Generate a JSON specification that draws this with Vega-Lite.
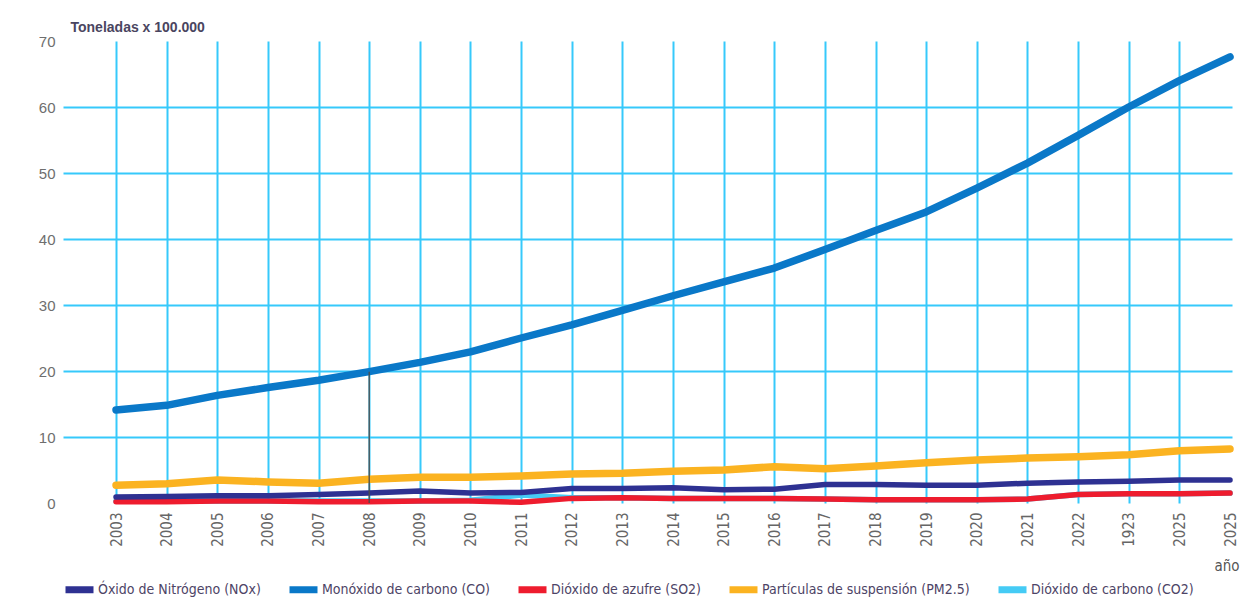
{
  "$schema": "https://vega.github.io/schema/vega-lite/v6.json",
  "width": 1169,
  "height": 462,
  "autosize": {"type": "none"},
  "padding": {"left": 63, "top": 41, "right": 28, "bottom": 107},
  "background": "#ffffff",
  "config": {
    "view": {"stroke": null},
    "font": "DejaVu Sans Condensed, sans-serif"
  },
  "datasets": {
    "emisiones": [
      {"pos": 0, "serie": "Dióxido de carbono (CO2)", "valor": 0.3},
      {"pos": 1, "serie": "Dióxido de carbono (CO2)", "valor": 0.3},
      {"pos": 2, "serie": "Dióxido de carbono (CO2)", "valor": 0.3},
      {"pos": 3, "serie": "Dióxido de carbono (CO2)", "valor": 0.3},
      {"pos": 4, "serie": "Dióxido de carbono (CO2)", "valor": 0.3},
      {"pos": 5, "serie": "Dióxido de carbono (CO2)", "valor": 0.3},
      {"pos": 6, "serie": "Dióxido de carbono (CO2)", "valor": 0.3},
      {"pos": 7, "serie": "Dióxido de carbono (CO2)", "valor": 0.4},
      {"pos": 8, "serie": "Dióxido de carbono (CO2)", "valor": 1.2},
      {"pos": 9, "serie": "Dióxido de carbono (CO2)", "valor": 0.8},
      {"pos": 10, "serie": "Dióxido de carbono (CO2)", "valor": 0.8},
      {"pos": 11, "serie": "Dióxido de carbono (CO2)", "valor": 0.7},
      {"pos": 12, "serie": "Dióxido de carbono (CO2)", "valor": 0.7},
      {"pos": 13, "serie": "Dióxido de carbono (CO2)", "valor": 0.7},
      {"pos": 14, "serie": "Dióxido de carbono (CO2)", "valor": 0.6},
      {"pos": 15, "serie": "Dióxido de carbono (CO2)", "valor": 0.5},
      {"pos": 16, "serie": "Dióxido de carbono (CO2)", "valor": 0.5},
      {"pos": 17, "serie": "Dióxido de carbono (CO2)", "valor": 0.5},
      {"pos": 18, "serie": "Dióxido de carbono (CO2)", "valor": 0.6},
      {"pos": 19, "serie": "Dióxido de carbono (CO2)", "valor": 1.3},
      {"pos": 20, "serie": "Dióxido de carbono (CO2)", "valor": 1.4},
      {"pos": 21, "serie": "Dióxido de carbono (CO2)", "valor": 1.4},
      {"pos": 22, "serie": "Dióxido de carbono (CO2)", "valor": 1.5},

      {"pos": 0, "serie": "Dióxido de azufre (SO2)", "valor": 0.2},
      {"pos": 1, "serie": "Dióxido de azufre (SO2)", "valor": 0.2},
      {"pos": 2, "serie": "Dióxido de azufre (SO2)", "valor": 0.3},
      {"pos": 3, "serie": "Dióxido de azufre (SO2)", "valor": 0.3},
      {"pos": 4, "serie": "Dióxido de azufre (SO2)", "valor": 0.2},
      {"pos": 5, "serie": "Dióxido de azufre (SO2)", "valor": 0.2},
      {"pos": 6, "serie": "Dióxido de azufre (SO2)", "valor": 0.3},
      {"pos": 7, "serie": "Dióxido de azufre (SO2)", "valor": 0.3},
      {"pos": 8, "serie": "Dióxido de azufre (SO2)", "valor": 0.1},
      {"pos": 9, "serie": "Dióxido de azufre (SO2)", "valor": 0.7},
      {"pos": 10, "serie": "Dióxido de azufre (SO2)", "valor": 0.8},
      {"pos": 11, "serie": "Dióxido de azufre (SO2)", "valor": 0.7},
      {"pos": 12, "serie": "Dióxido de azufre (SO2)", "valor": 0.7},
      {"pos": 13, "serie": "Dióxido de azufre (SO2)", "valor": 0.7},
      {"pos": 14, "serie": "Dióxido de azufre (SO2)", "valor": 0.6},
      {"pos": 15, "serie": "Dióxido de azufre (SO2)", "valor": 0.5},
      {"pos": 16, "serie": "Dióxido de azufre (SO2)", "valor": 0.5},
      {"pos": 17, "serie": "Dióxido de azufre (SO2)", "valor": 0.5},
      {"pos": 18, "serie": "Dióxido de azufre (SO2)", "valor": 0.6},
      {"pos": 19, "serie": "Dióxido de azufre (SO2)", "valor": 1.3},
      {"pos": 20, "serie": "Dióxido de azufre (SO2)", "valor": 1.4},
      {"pos": 21, "serie": "Dióxido de azufre (SO2)", "valor": 1.4},
      {"pos": 22, "serie": "Dióxido de azufre (SO2)", "valor": 1.5},

      {"pos": 0, "serie": "Óxido de Nitrógeno (NOx)", "valor": 0.9},
      {"pos": 1, "serie": "Óxido de Nitrógeno (NOx)", "valor": 1.0},
      {"pos": 2, "serie": "Óxido de Nitrógeno (NOx)", "valor": 1.1},
      {"pos": 3, "serie": "Óxido de Nitrógeno (NOx)", "valor": 1.1},
      {"pos": 4, "serie": "Óxido de Nitrógeno (NOx)", "valor": 1.3},
      {"pos": 5, "serie": "Óxido de Nitrógeno (NOx)", "valor": 1.5},
      {"pos": 6, "serie": "Óxido de Nitrógeno (NOx)", "valor": 1.8},
      {"pos": 7, "serie": "Óxido de Nitrógeno (NOx)", "valor": 1.5},
      {"pos": 8, "serie": "Óxido de Nitrógeno (NOx)", "valor": 1.6},
      {"pos": 9, "serie": "Óxido de Nitrógeno (NOx)", "valor": 2.2},
      {"pos": 10, "serie": "Óxido de Nitrógeno (NOx)", "valor": 2.2},
      {"pos": 11, "serie": "Óxido de Nitrógeno (NOx)", "valor": 2.3},
      {"pos": 12, "serie": "Óxido de Nitrógeno (NOx)", "valor": 2.0},
      {"pos": 13, "serie": "Óxido de Nitrógeno (NOx)", "valor": 2.1},
      {"pos": 14, "serie": "Óxido de Nitrógeno (NOx)", "valor": 2.8},
      {"pos": 15, "serie": "Óxido de Nitrógeno (NOx)", "valor": 2.8},
      {"pos": 16, "serie": "Óxido de Nitrógeno (NOx)", "valor": 2.7},
      {"pos": 17, "serie": "Óxido de Nitrógeno (NOx)", "valor": 2.7},
      {"pos": 18, "serie": "Óxido de Nitrógeno (NOx)", "valor": 3.0},
      {"pos": 19, "serie": "Óxido de Nitrógeno (NOx)", "valor": 3.2},
      {"pos": 20, "serie": "Óxido de Nitrógeno (NOx)", "valor": 3.3},
      {"pos": 21, "serie": "Óxido de Nitrógeno (NOx)", "valor": 3.5},
      {"pos": 22, "serie": "Óxido de Nitrógeno (NOx)", "valor": 3.5},

      {"pos": 0, "serie": "Partículas de suspensión (PM2.5)", "valor": 2.7},
      {"pos": 1, "serie": "Partículas de suspensión (PM2.5)", "valor": 2.9},
      {"pos": 2, "serie": "Partículas de suspensión (PM2.5)", "valor": 3.5},
      {"pos": 3, "serie": "Partículas de suspensión (PM2.5)", "valor": 3.2},
      {"pos": 4, "serie": "Partículas de suspensión (PM2.5)", "valor": 3.0},
      {"pos": 5, "serie": "Partículas de suspensión (PM2.5)", "valor": 3.6},
      {"pos": 6, "serie": "Partículas de suspensión (PM2.5)", "valor": 3.9},
      {"pos": 7, "serie": "Partículas de suspensión (PM2.5)", "valor": 3.9},
      {"pos": 8, "serie": "Partículas de suspensión (PM2.5)", "valor": 4.1},
      {"pos": 9, "serie": "Partículas de suspensión (PM2.5)", "valor": 4.4},
      {"pos": 10, "serie": "Partículas de suspensión (PM2.5)", "valor": 4.5},
      {"pos": 11, "serie": "Partículas de suspensión (PM2.5)", "valor": 4.8},
      {"pos": 12, "serie": "Partículas de suspensión (PM2.5)", "valor": 5.0},
      {"pos": 13, "serie": "Partículas de suspensión (PM2.5)", "valor": 5.5},
      {"pos": 14, "serie": "Partículas de suspensión (PM2.5)", "valor": 5.2},
      {"pos": 15, "serie": "Partículas de suspensión (PM2.5)", "valor": 5.6},
      {"pos": 16, "serie": "Partículas de suspensión (PM2.5)", "valor": 6.1},
      {"pos": 17, "serie": "Partículas de suspensión (PM2.5)", "valor": 6.5},
      {"pos": 18, "serie": "Partículas de suspensión (PM2.5)", "valor": 6.8},
      {"pos": 19, "serie": "Partículas de suspensión (PM2.5)", "valor": 7.0},
      {"pos": 20, "serie": "Partículas de suspensión (PM2.5)", "valor": 7.3},
      {"pos": 21, "serie": "Partículas de suspensión (PM2.5)", "valor": 7.9},
      {"pos": 22, "serie": "Partículas de suspensión (PM2.5)", "valor": 8.2},

      {"pos": 0, "serie": "Monóxido de carbono (CO)", "valor": 14.1},
      {"pos": 1, "serie": "Monóxido de carbono (CO)", "valor": 14.8},
      {"pos": 2, "serie": "Monóxido de carbono (CO)", "valor": 16.3},
      {"pos": 3, "serie": "Monóxido de carbono (CO)", "valor": 17.5},
      {"pos": 4, "serie": "Monóxido de carbono (CO)", "valor": 18.6},
      {"pos": 5, "serie": "Monóxido de carbono (CO)", "valor": 19.9},
      {"pos": 6, "serie": "Monóxido de carbono (CO)", "valor": 21.3},
      {"pos": 7, "serie": "Monóxido de carbono (CO)", "valor": 22.9},
      {"pos": 8, "serie": "Monóxido de carbono (CO)", "valor": 25.0},
      {"pos": 9, "serie": "Monóxido de carbono (CO)", "valor": 27.0},
      {"pos": 10, "serie": "Monóxido de carbono (CO)", "valor": 29.2},
      {"pos": 11, "serie": "Monóxido de carbono (CO)", "valor": 31.4},
      {"pos": 12, "serie": "Monóxido de carbono (CO)", "valor": 33.5},
      {"pos": 13, "serie": "Monóxido de carbono (CO)", "valor": 35.6},
      {"pos": 14, "serie": "Monóxido de carbono (CO)", "valor": 38.4},
      {"pos": 15, "serie": "Monóxido de carbono (CO)", "valor": 41.3},
      {"pos": 16, "serie": "Monóxido de carbono (CO)", "valor": 44.1},
      {"pos": 17, "serie": "Monóxido de carbono (CO)", "valor": 47.7},
      {"pos": 18, "serie": "Monóxido de carbono (CO)", "valor": 51.5},
      {"pos": 19, "serie": "Monóxido de carbono (CO)", "valor": 55.7},
      {"pos": 20, "serie": "Monóxido de carbono (CO)", "valor": 60.0},
      {"pos": 21, "serie": "Monóxido de carbono (CO)", "valor": 64.0},
      {"pos": 22, "serie": "Monóxido de carbono (CO)", "valor": 67.6}
    ]
  },
  "data": {"name": "emisiones"},
  "encoding": {
    "x": {
      "field": "pos",
      "type": "ordinal",
      "scale": {"type": "point", "padding": 0.543, "align": 0.964},
      "axis": {
        "title": "año",
        "titleX": 1176,
        "titleY": 62,
        "titleAlign": "right",
        "titleBaseline": "middle",
        "titleFontSize": 15,
        "titleFontWeight": "normal",
        "titleColor": "#555555",
        "labelExpr": "['2003','2004','2005','2006','2007','2008','2009','2010','2011','2012','2013','2014','2015','2016','2017','2018','2019','2020','2021','2022','1923','2025','2025'][datum.value]",
        "labelAngle": -90,
        "labelAlign": "right",
        "labelBaseline": "middle",
        "labelPadding": 9,
        "labelFontSize": 15,
        "labelColor": "#666666",
        "labelFlush": false,
        "labelOverlap": false,
        "ticks": false,
        "domain": false,
        "grid": true,
        "gridColor": "#36c9fb",
        "gridWidth": 2,
        "gridOpacity": {"condition": {"test": "datum.value == 22", "value": 0}, "value": 1}
      }
    },
    "y": {
      "field": "valor",
      "type": "quantitative",
      "scale": {"domain": [0, 70], "nice": false, "zero": true},
      "axis": {
        "title": "Toneladas x 100.000",
        "titleAngle": 0,
        "titleX": 7,
        "titleY": -14,
        "titleAlign": "left",
        "titleBaseline": "middle",
        "titleFont": "Liberation Sans, Arial, sans-serif",
        "titleFontSize": 14,
        "titleFontWeight": "bold",
        "titleColor": "#4a4560",
        "values": [0, 10, 20, 30, 40, 50, 60, 70],
        "labelFont": "Liberation Sans, Arial, sans-serif",
        "labelFontSize": 15,
        "labelColor": "#6e6e6e",
        "labelPadding": 8,
        "labelFlush": false,
        "ticks": false,
        "domain": false,
        "grid": true,
        "gridColor": "#36c9fb",
        "gridWidth": 2,
        "gridOpacity": {"condition": {"test": "datum.value == 0 || datum.value == 70", "value": 0}, "value": 1}
      }
    },
    "color": {
      "field": "serie",
      "type": "nominal",
      "title": null,
      "scale": {
        "domain": ["Óxido de Nitrógeno (NOx)", "Monóxido de carbono (CO)", "Dióxido de azufre (SO2)", "Partículas de suspensión (PM2.5)", "Dióxido de carbono (CO2)"],
        "range": ["#2e3192", "#0a78c8", "#ee1c2e", "#fbb321", "#45cbf5"]
      },
      "legend": {
        "orient": "none",
        "direction": "horizontal",
        "columns": 5,
        "legendX": -1,
        "legendY": 531,
        "columnPadding": 14,
        "symbolType": "stroke",
        "symbolSize": 784,
        "symbolStrokeWidth": 7,
        "labelOffset": 1,
        "labelFontSize": 14,
        "labelColor": "#4d4466",
        "labelLimit": 400
      }
    }
  },
  "layer": [
    {
      "transform": [
        {"filter": "datum.serie !== 'Monóxido de carbono (CO)' && datum.serie !== 'Partículas de suspensión (PM2.5)'"}
      ],
      "mark": {"type": "line", "strokeWidth": 5.5, "strokeCap": "round", "strokeJoin": "round"}
    },
    {
      "transform": [
        {"filter": "datum.serie === 'Monóxido de carbono (CO)' || datum.serie === 'Partículas de suspensión (PM2.5)'"}
      ],
      "mark": {"type": "line", "strokeWidth": 7.5, "strokeCap": "round", "strokeJoin": "round"}
    },
    {
      "transform": [
        {"filter": "datum.serie === 'Monóxido de carbono (CO)' && datum.pos === 5"}
      ],
      "mark": {"type": "rule", "color": "#4a4a4a", "strokeWidth": 1.3},
      "encoding": {
        "color": {"value": "#4a4a4a"},
        "y2": {"datum": 0}
      }
    }
  ]
}
